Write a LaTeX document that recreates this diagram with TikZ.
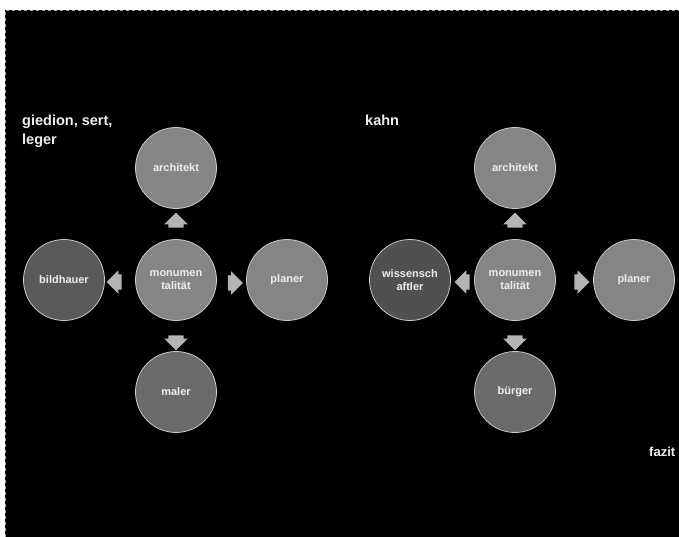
\documentclass[tikz,border=0pt]{standalone}
\usepackage{fontspec}
\setmainfont{Liberation Sans}
\usetikzlibrary{shapes.arrows}
\definecolor{cA}{HTML}{858585}
\definecolor{cB}{HTML}{5A5A5A}
\definecolor{cC}{HTML}{6A6A6A}
\definecolor{cD}{HTML}{505050}
\definecolor{rim}{HTML}{C8C8C8}
\definecolor{arr}{HTML}{B4B4B4}
\definecolor{txt}{HTML}{EEEEEE}
\begin{document}
\begin{tikzpicture}[x=1pt,y=-1pt,
  bub/.style={circle,draw=rim,line width=0.8pt,minimum size=81pt,inner sep=0pt,text=txt,
    font=\fontsize{11}{13}\selectfont\bfseries,align=center},
  blk/.style={single arrow,fill=arr,draw=none,minimum height=15pt,minimum width=23pt,
    single arrow head extend=4pt,inner xsep=2pt,inner ysep=7.5pt},
  ttl/.style={anchor=north west,text=txt,font=\fontsize{14.5}{19}\selectfont\bfseries,align=left,inner sep=0pt}]
\useasboundingbox (0,0) rectangle (679,537);
\fill[white] (0,0) rectangle (679,537);
\fill[black] (5,10) rectangle (679,537);
\draw[gray!70,dashed,line width=0.8pt] (5,537) -- (5,10) -- (679,10);
% left group
\node[ttl] (t1) at (22,115) {giedion, sert,\\leger};
\node[bub,fill=cA] (m1) at (176,280) {monumen\\talität};
\node[bub,fill=cA] (a1) at (176,168) {architekt};
\node[bub,fill=cA] (p1) at (287,280) {planer};
\node[bub,fill=cB] (b1) at (64,280) {bildhauer};
\node[bub,fill=cC] (ma1) at (176,392) {maler};
\node[blk,rotate=90] (u1) at (176,224) {};
\node[blk,rotate=270] (d1) at (176,339) {};
\node[blk,rotate=180] (l1) at (118,282) {};
\node[blk] (r1) at (231.5,283) {};
% right group
\node[ttl] (t2) at (365,115) {kahn};
\node[bub,fill=cA] (m2) at (515,280) {monumen\\talität};
\node[bub,fill=cA] (a2) at (515,168) {architekt};
\node[bub,fill=cA] (p2) at (634,280) {planer};
\node[bub,fill=cD] (w2) at (410,280) {wissensch\\aftler};
\node[bub,fill=cC] (b2) at (515,392) {bürger};
\node[blk,rotate=90] (u2) at (515,224) {};
\node[blk,rotate=270] (d2) at (515,339) {};
\node[blk,rotate=180] (l2) at (466,282) {};
\node[blk] (r2) at (578,282) {};
\node[anchor=west,text=txt,inner sep=0pt,font=\fontsize{13}{15}\selectfont\bfseries] (fz) at (649,452) {fazit};
\end{tikzpicture}
\end{document}
